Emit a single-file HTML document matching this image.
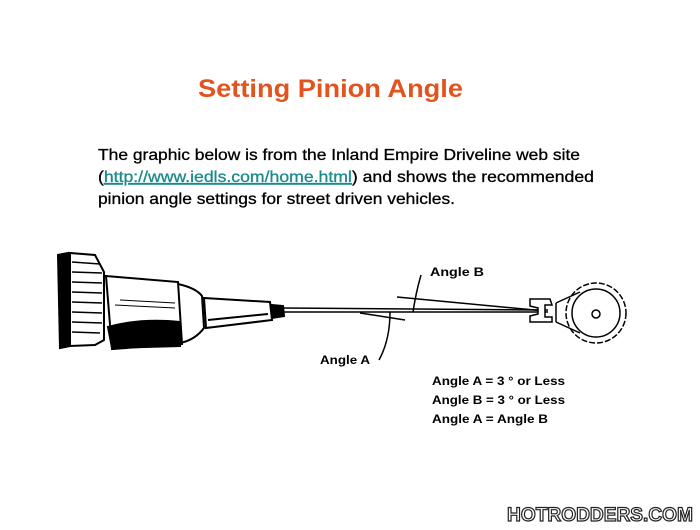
<!DOCTYPE html>
<html><head><style>body{margin:0;background:#fff}</style></head><body>
<svg width="700" height="525" xmlns="http://www.w3.org/2000/svg" font-family="Liberation Sans, Arial, sans-serif">
<rect width="700" height="525" fill="#fff"/>
<text x="198" y="97" textLength="265" lengthAdjust="spacingAndGlyphs" font-size="25" font-weight="bold" fill="#e2531f">Setting Pinion Angle</text>
<g font-size="16" fill="#000" stroke="#000" stroke-width="0.3">
<text x="98" y="160" textLength="482" lengthAdjust="spacingAndGlyphs">The graphic below is from the Inland Empire Driveline web site</text>
<text x="98" y="182" textLength="496" lengthAdjust="spacingAndGlyphs">(<tspan fill="#1a8a8a" stroke="#1a8a8a" text-decoration="underline">http://www.iedls.com/home.html</tspan>) and  shows the recommended</text>
<text x="98" y="204" textLength="357" lengthAdjust="spacingAndGlyphs">pinion angle settings for street driven vehicles.</text>
</g>
<g stroke="#000" fill="none" stroke-width="2">
<path d="M68,253 L58,255 L60,348 L70,346 Z" fill="#000"/>
<path d="M70,253 L95,255 L104,272 L104,340 L95,345 L70,346 Z" fill="#fff"/>
<g stroke-width="1.5"><line x1="72" y1="262" x2="100" y2="264"/><line x1="72" y1="272" x2="102" y2="273"/><line x1="72" y1="282" x2="102" y2="283"/><line x1="72" y1="292" x2="102" y2="293"/><line x1="72" y1="302" x2="102" y2="303"/><line x1="72" y1="312" x2="102" y2="313"/><line x1="72" y1="322" x2="102" y2="323"/><line x1="72" y1="332" x2="100" y2="333"/></g>
<path d="M106,276 L178,282 L182,344 L112,349 Z" fill="#fff"/>
<path d="M108,327 Q140,318 180,322 L180,346 L112,348 Z" fill="#000"/>
<path d="M178,284 Q196,288 202,296 L204,328 Q195,340 180,343"/>
<path d="M204,298 L270,302 L272,320 L206,328 Z"/>
<line x1="208" y1="320" x2="268" y2="314"/>
<path d="M272,305 L283,306 L284,316 L272,318 Z" fill="#000"/>
<line x1="120" y1="300" x2="175" y2="303" stroke-width="1"/>
<line x1="115" y1="305" x2="175" y2="308" stroke-width="1"/>
</g>
<g stroke="#000" stroke-width="1.5" fill="none">
<line x1="284" y1="308" x2="548" y2="310"/>
<line x1="284" y1="312" x2="548" y2="312"/>
<line x1="397" y1="297" x2="545" y2="311"/>
<line x1="360" y1="313" x2="405" y2="320"/>
<path d="M421,275 Q416,292 413,312"/>
<path d="M390,312 Q390,340 379,360"/>
<path d="M530,299 L550,299 L552,305 L545,305 L545,317 L552,317 L552,322 L530,322 L530,316 L538,314 L538,308 L530,306 Z" fill="#fff"/>
<path d="M556,303 L580,292 M556,322 L580,333 M556,303 L556,322"/>
<circle cx="596" cy="313" r="30" stroke-dasharray="6 2"/>
<circle cx="596" cy="313" r="24"/>
<circle cx="596" cy="314" r="4"/>
</g>
<g font-size="12" font-weight="bold" fill="#000">
<text x="430" y="276" textLength="54" lengthAdjust="spacingAndGlyphs">Angle B</text>
<text x="320" y="364" textLength="50" lengthAdjust="spacingAndGlyphs">Angle A</text>
<text x="432" y="385" textLength="133" lengthAdjust="spacingAndGlyphs">Angle A = 3 ° or Less</text>
<text x="432" y="404" textLength="133" lengthAdjust="spacingAndGlyphs">Angle B = 3 ° or Less</text>
<text x="432" y="423" textLength="116" lengthAdjust="spacingAndGlyphs">Angle A = Angle B</text>
</g>
<text x="507" y="521" textLength="186" lengthAdjust="spacingAndGlyphs" font-size="19" font-weight="bold" fill="#fff" stroke="#222" stroke-width="1.2">HOTRODDERS.COM</text>
</svg>
</body></html>
